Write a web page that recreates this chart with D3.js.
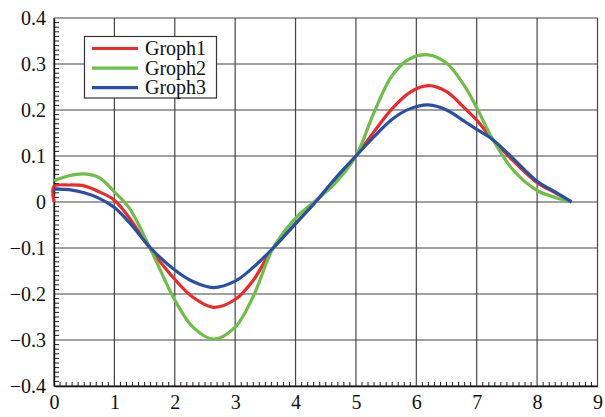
<!DOCTYPE html>
<html>
<head>
<meta charset="utf-8">
<script src="https://cdn.jsdelivr.net/npm/d3@7"></script>
<style>
  body { margin: 0; background: #fff; }
  svg text { font-family: "Liberation Serif", "Times New Roman", serif !important; }
</style>
</head>
<body>
<svg id="chart" width="605" height="417"></svg>
<script>
// x positions shared by the three curves
const xs = [0, 0.25, 0.5, 0.75, 1.0, 1.25, 1.6, 2.0, 2.3, 2.64, 3.0, 3.3, 3.63, 4.0, 4.33, 4.65,
  5.0, 5.3, 5.6, 5.9, 6.2, 6.5, 6.8, 7.0, 7.27, 7.6, 8.0, 8.3, 8.57];

const graph1 = [0.034, 0.037, 0.035, 0.022, 0.004, -0.035, -0.103, -0.168, -0.207, -0.229, -0.212, -0.17,
  -0.1, -0.047, 0.0, 0.048, 0.1, 0.153, 0.203, 0.239, 0.253, 0.24, 0.204, 0.178, 0.135, 0.09, 0.042, 0.02, 0];
const graph2 = [0.046, 0.057, 0.061, 0.053, 0.022, -0.014, -0.103, -0.213, -0.272, -0.298, -0.272, -0.205,
  -0.1, -0.035, 0.003, 0.04, 0.1, 0.195, 0.275, 0.312, 0.32, 0.302, 0.252, 0.205, 0.135, 0.07, 0.025, 0.01, 0];
const graph3 = [0.028, 0.027, 0.02, 0.008, -0.012, -0.045, -0.1, -0.148, -0.173, -0.186, -0.172, -0.142,
  -0.1, -0.047, 0.0, 0.05, 0.1, 0.142, 0.18, 0.203, 0.211, 0.2, 0.175, 0.158, 0.135, 0.095, 0.045, 0.022, 0];

const seriesNames = ["Groph1", "Groph2", "Groph3"];
const seriesColors = ["#ec2a2c", "#6dbf47", "#2a50a3"];

const xTicks = [0, 1, 2, 3, 4, 5, 6, 7, 8, 9];
const yTicks = [-0.4, -0.3, -0.2, -0.1, 0, 0.1, 0.2, 0.3, 0.4];

const svg = d3.select("#chart");
const plotLeft = 54, plotRight = 597.5, plotTop = 18, plotBottom = 386;
const serif = "'Liberation Serif', 'Times New Roman', serif";

const x = d3.scaleLinear().domain([0, 9]).range([plotLeft, plotRight]);
const y = d3.scaleLinear().domain([-0.4, 0.4]).range([plotBottom, plotTop]);

// grid
svg.append("g").selectAll("line").data(xTicks).enter().append("line")
  .attr("x1", d => x(d)).attr("x2", d => x(d))
  .attr("y1", plotTop).attr("y2", plotBottom)
  .attr("stroke", "#444").attr("stroke-width", 1.2);
svg.append("g").selectAll("line").data(yTicks).enter().append("line")
  .attr("x1", plotLeft).attr("x2", plotRight)
  .attr("y1", d => y(d)).attr("y2", d => y(d))
  .attr("stroke", "#444").attr("stroke-width", 1.2);

// minor ticks, pointing inward
const xMinor = d3.range(0, 90).map(i => i / 10).filter((d, i) => i % 10 != 0);
const yMinor = d3.range(-40, 40).map(i => i / 100).filter((d, i) => i % 10 != 0);
svg.append("g").selectAll("line").data(xMinor).enter().append("line")
  .attr("x1", d => x(d)).attr("x2", d => x(d))
  .attr("y1", plotBottom).attr("y2", plotBottom - 4)
  .attr("stroke", "#222").attr("stroke-width", 1);
svg.append("g").selectAll("line").data(yMinor).enter().append("line")
  .attr("x1", plotLeft).attr("x2", plotLeft + 5)
  .attr("y1", d => y(d)).attr("y2", d => y(d))
  .attr("stroke", "#222").attr("stroke-width", 1);

// axes
const xAxis = svg.append("g").attr("transform", "translate(0," + plotBottom + ")")
  .call(d3.axisBottom(x).tickValues(xTicks).tickSize(0).tickPadding(11).tickFormat(d3.format("d")));
const yAxis = svg.append("g").attr("transform", "translate(" + plotLeft + ",0)")
  .call(d3.axisLeft(y).tickValues(yTicks).tickSize(0).tickPadding(8)
    .tickFormat(d => d === 0 ? "0" : d3.format(".1f")(d).replace("-", "\u2212")));
[xAxis, yAxis].forEach(a => {
  a.attr("font-family", null);
  a.select(".domain").attr("stroke", "#111").attr("stroke-width", 1.4);
  a.selectAll("text").style("font-family", serif).style("font-size", "20px").attr("fill", "#111");
});
xAxis.selectAll("text").attr("dy", "0.6em");

// curves
const allSeries = [graph1, graph2, graph3].map(vals => xs.map((d, i) => [d, vals[i]]));
allSeries[0].unshift([0, 0]);
const line = d3.line().x(d => x(d[0])).y(d => y(d[1])).curve(d3.curveCatmullRom.alpha(0.5));
svg.append("g").selectAll("path").data(allSeries).enter().append("path")
  .attr("d", line)
  .attr("fill", "none")
  .attr("stroke", (d, i) => seriesColors[i])
  .attr("stroke-width", 3.2)
  .attr("stroke-linejoin", "round");

// legend
const legend = svg.append("g");
legend.append("rect").attr("x", 84.5).attr("y", 36.5).attr("width", 132).attr("height", 61.5)
  .attr("fill", "#fff").attr("stroke", "#333").attr("stroke-width", 1.2);
seriesNames.forEach((name, i) => {
  const ly = 48.5 + i * 19.6;
  legend.append("line").attr("x1", 92).attr("x2", 138).attr("y1", ly).attr("y2", ly)
    .attr("stroke", seriesColors[i]).attr("stroke-width", 3.2);
  legend.append("text").attr("x", 145).attr("y", ly + 6.5)
    .style("font-family", serif).style("font-size", "20px").attr("fill", "#111").text(name);
});
</script>
</body>
</html>
